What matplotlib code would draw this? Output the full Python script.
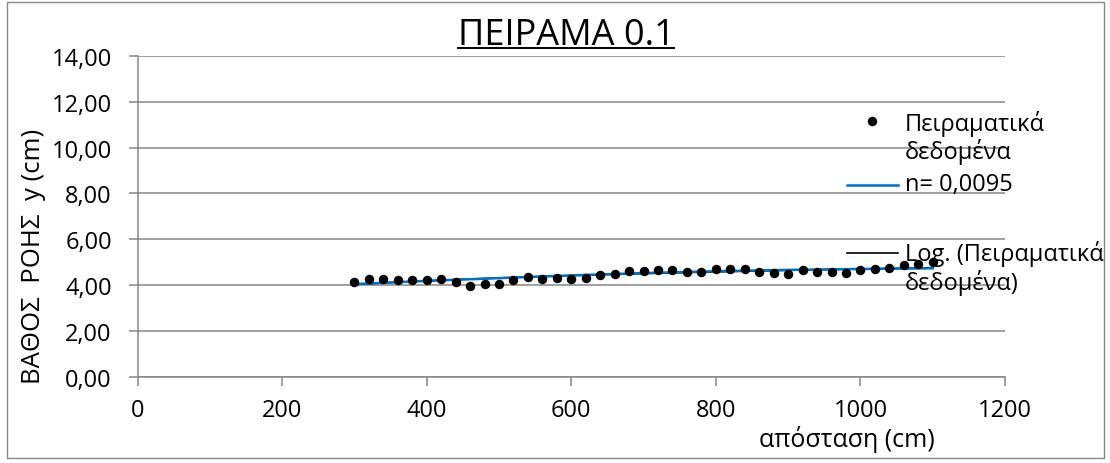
import matplotlib.pyplot as plt
import numpy as np
from matplotlib.lines import Line2D
from matplotlib.patches import Rectangle
from matplotlib.ticker import FuncFormatter

plt.rcParams['font.family'] = ['Open Sans', 'DejaVu Sans']

# Measured flow depth along the channel
distance = np.arange(300, 1101, 20)
depth = [4.15, 4.26, 4.26, 4.24, 4.23, 4.21, 4.25, 4.11, 3.97, 4.06,
         4.05, 4.24, 4.33, 4.28, 4.29, 4.26, 4.30, 4.43, 4.48, 4.61,
         4.60, 4.66, 4.67, 4.55, 4.58, 4.72, 4.70, 4.70, 4.55, 4.52,
         4.47, 4.65, 4.58, 4.58, 4.52, 4.64, 4.70, 4.75, 4.88, 4.90,
         5.00]

# Computed profile for n = 0.0095
model_x = [300, 400, 500, 600, 700, 800, 900, 1000, 1100]
model_y = [4.04, 4.18, 4.30, 4.42, 4.52, 4.60, 4.66, 4.70, 4.73]

y_ticks = [0, 2, 4, 6, 8, 10, 12, 14]
x_ticks = [0, 200, 400, 600, 800, 1000, 1200]

GRAY = '#868686'
W, H = 1110, 464

fig = plt.figure(figsize=(W / 100, H / 100), dpi=100)
ax = fig.add_axes([137.5 / W, 1 - 377.6 / H, (1005 - 137.5) / W, (377.6 - 57) / H])

# logarithmic trendline fitted to the measurements
a, b = np.polyfit(np.log(distance), depth, 1)
trend = a * np.log(distance) + b

ax.plot(distance, trend, color='black', lw=1.2, zorder=3)
ax.plot(model_x, model_y, color='#0070C0', lw=1.8, zorder=4)
ax.plot(distance, depth, 'o', color='black', ms=5.8, zorder=5)

ax.set_xlim(0, 1200)
ax.set_ylim(0, 14)
ax.set_xticks(x_ticks)
ax.set_yticks(y_ticks)
ax.yaxis.set_major_formatter(FuncFormatter(lambda v, p: f'{v:.2f}'.replace('.', ',')))

ax.yaxis.grid(True, color=GRAY, lw=1.1)
ax.set_axisbelow(True)
for side in ['top', 'right']:
    ax.spines[side].set_visible(False)
for side in ['left', 'bottom']:
    ax.spines[side].set_color(GRAY)
    ax.spines[side].set_linewidth(1.1)
ax.tick_params(direction='out', length=6.5, width=1.1, color=GRAY,
               pad=12, labelsize=17, labelcolor='black')
ax.tick_params(axis='x', pad=9)

# axis titles
fig.text(34 / W, 1 - 256 / H, 'ΒΑΘΟΣ  ΡΟΗΣ  y (cm)', rotation=90,
         ha='center', va='center', fontsize=18.5)
fig.text(847 / W, 1 - 440 / H, 'απόσταση (cm)', ha='center', va='center', fontsize=18)

# underlined chart title
title = fig.text(566 / W, 1 - 36 / H, 'ΠΕΙΡΑΜΑ 0.1', ha='center', va='center', fontsize=26)
fig.canvas.draw()
bb = title.get_window_extent()
fig.add_artist(Line2D([bb.x0 / W, bb.x1 / W], [(bb.y0 + 5) / H] * 2,
                      color='black', lw=1.4))

# legend
fig.add_artist(Line2D([872 / W], [1 - 122 / H], marker='o', ms=5.8,
                      color='black', linestyle='none'))
fig.add_artist(Line2D([847 / W, 898 / W], [1 - 186 / H] * 2, color='#0070C0', lw=1.8))
fig.add_artist(Line2D([847 / W, 898 / W], [1 - 254 / H] * 2, color='black', lw=1.2))
legend_rows = [('Πειραματικά', 124), ('δεδομένα', 152), ('n= 0,0095', 185),
               ('Log. (Πειραματικά', 254), ('δεδομένα)', 283)]
for label, ypix in legend_rows:
    fig.text(905 / W, 1 - ypix / H, label, ha='left', va='center', fontsize=17)

# chart border
fig.add_artist(Rectangle((7 / W, 1 - 459 / H), (1104 - 7) / W, (459 - 3) / H,
                         transform=fig.transFigure, fill=False,
                         edgecolor=GRAY, lw=1))

fig.savefig('out.png', dpi=100)
